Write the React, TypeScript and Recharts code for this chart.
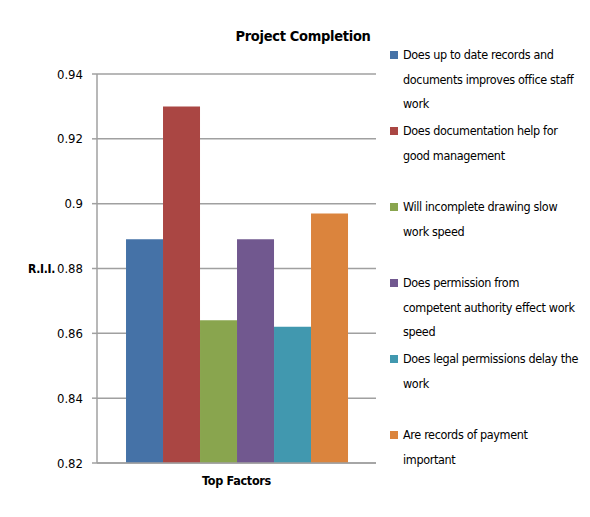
import React from "react";
import { BarChart, Bar, XAxis, YAxis, CartesianGrid } from "recharts";

const categories = ["Top Factors"];
// legend names, broken into lines the way the original legend shows them
const factorNames = [
  "Does up to date records and\ndocuments improves office staff\nwork",
  "Does documentation help for\ngood management",
  "Will incomplete drawing slow\nwork speed",
  "Does permission from\ncompetent authority effect work\nspeed",
  "Does legal permissions delay the\nwork",
  "Are records of payment\nimportant",
];
const riiValues = [0.889, 0.93, 0.864, 0.889, 0.862, 0.897];
const barColors = ["#4572A7", "#AA4643", "#89A54E", "#71588F", "#4198AF", "#DB843D"];
const yTicks = [0.82, 0.84, 0.86, 0.88, 0.9, 0.92, 0.94];

const FONT = "'DejaVu Sans Condensed', 'Liberation Sans Narrow', Roboto, sans-serif";

const data = categories.map((name) => {
  const row: Record<string, string | number> = { name };
  factorNames.forEach((f, i) => {
    row["s" + i] = riiValues[i];
  });
  return row;
});

export default function App() {
  return (
    <div style={{ margin: -8 }}>
      <div
        style={{
          position: "relative",
          width: 590,
          height: 517,
          background: "#fff",
          overflow: "hidden",
          fontFamily: FONT,
        }}
      >
        {/* chart frame, only top and left edges visible in the crop */}
        <div
          style={{
            position: "absolute",
            left: 5,
            top: 4,
            width: 600,
            height: 600,
            borderTop: "2px solid #a6a6a6",
            borderLeft: "2px solid #a6a6a6",
          }}
        />
        <div
          style={{
            position: "absolute",
            left: 0,
            width: 606,
            top: 28,
            textAlign: "center",
            fontWeight: "bold",
            fontSize: 14.5,
            letterSpacing: -0.3,
            color: "#000",
          }}
        >
          Project Completion
        </div>

        <div style={{ position: "absolute", left: 0, top: 0 }}>
          <BarChart
            width={590}
            height={517}
            data={data}
            margin={{ top: 74, right: 214, bottom: 24, left: 0 }}
            barCategoryGap="10.4%"
            barGap={0}
          >
            <CartesianGrid vertical={false} stroke="#a0a0a0" strokeWidth={1.5} />
            <XAxis
              dataKey="name"
              height={30}
              tickLine={false}
              axisLine={{ stroke: "#a0a0a0", strokeWidth: 1.5 }}
              tick={{
                fill: "#000",
                fontSize: 12.5,
                fontWeight: "bold",
                fontFamily: FONT,
                letterSpacing: -0.3,
              }}
              tickMargin={7}
            />
            <YAxis
              width={97}
              domain={[0.82, 0.94]}
              ticks={yTicks}
              interval={0}
              allowDataOverflow
              tickFormatter={(v: number) => String(Number(v.toFixed(2)))}
              tickSize={5}
              tickMargin={9}
              tickLine={{ stroke: "#a0a0a0", strokeWidth: 1.5 }}
              axisLine={{ stroke: "#a0a0a0", strokeWidth: 1.5 }}
              tick={{ fill: "#000", fontSize: 13, fontFamily: FONT }}
              label={{
                value: "R.I.I.",
                position: "insideLeft",
                offset: 28,
                fill: "#000",
                fontSize: 12,
                fontWeight: "bold",
                fontFamily: FONT,
                letterSpacing: -0.3,
              }}
            />
            {factorNames.map((f, i) => (
              <Bar
                key={f}
                dataKey={"s" + i}
                name={f}
                fill={barColors[i]}
                isAnimationActive={false}
              />
            ))}
          </BarChart>
        </div>

        <div style={{ position: "absolute", left: 390, top: 43, width: 200 }}>
          {factorNames.map((f, i) => (
            <div
              key={f}
              style={{
                display: "flex",
                alignItems: "flex-start",
                height: 76,
                fontSize: 12.5,
                letterSpacing: -0.35,
                lineHeight: "24.5px",
                color: "#000",
                whiteSpace: "pre",
              }}
            >
              <span
                style={{
                  flex: "0 0 auto",
                  width: 8,
                  height: 8,
                  marginTop: 8,
                  marginRight: 5,
                  background: barColors[i],
                }}
              />
              <span>{f}</span>
            </div>
          ))}
        </div>
      </div>
    </div>
  );
}
